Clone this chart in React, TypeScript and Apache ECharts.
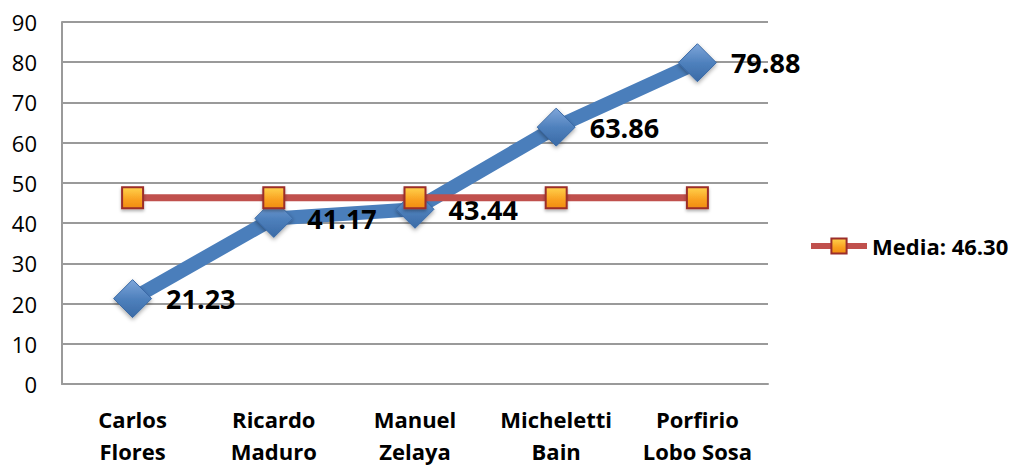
import React, { useEffect, useRef } from "react";
import * as echarts from "echarts";

const categories = ["Carlos\nFlores", "Ricardo\nMaduro", "Manuel\nZelaya", "Micheletti\nBain", "Porfirio\nLobo Sosa"];
const values = [21.23, 41.17, 43.44, 63.86, 79.88];
const mediaValues = [46.3, 46.3, 46.3, 46.3, 46.3];
const mediaName = "Media: 46.30";

export default function App() {
  const ref = useRef<HTMLDivElement>(null);
  useEffect(() => {
    const chart = echarts.init(ref.current!, undefined, { renderer: "svg" });
    const font = "'Open Sans', Lato, sans-serif";
    chart.setOption({
      animation: false,
      textStyle: { fontFamily: font },
      grid: { left: 62, right: 246, top: 22, bottom: 77, containLabel: false },
      legend: {
        data: [mediaName],
        orient: "vertical",
        left: 803,
        top: 230,
        itemWidth: 56,
        itemHeight: 19,
        itemGap: 6,
        lineStyle: { width: 6, color: "#C0504D" },
        textStyle: { fontFamily: font, fontWeight: "bold", fontSize: 22, color: "#000" },
      },
      xAxis: {
        type: "category",
        data: categories,
        boundaryGap: true,
        axisLine: { show: true, lineStyle: { color: "#9a9a9a", width: 2 } },
        axisTick: { show: false },
        axisLabel: {
          interval: 0,
          margin: 19,
          fontFamily: font,
          fontWeight: "bold",
          fontSize: 22,
          lineHeight: 32,
          color: "#000",
        },
      },
      yAxis: {
        type: "value",
        min: 0,
        max: 90,
        interval: 10,
        axisLine: { show: true, lineStyle: { color: "#9a9a9a", width: 2 } },
        axisTick: { show: false },
        splitLine: { show: true, lineStyle: { color: "#9a9a9a", width: 2 } },
        axisLabel: { fontFamily: font, fontSize: 22, color: "#000", margin: 25 },
      },
      series: [
        {
          name: "Valores",
          type: "line",
          data: values,
          symbol: "diamond",
          symbolSize: [38, 38],
          lineStyle: { color: "#4A7EBB", width: 14 },
          itemStyle: {
            color: new echarts.graphic.LinearGradient(0, 0, 0, 1, [
              { offset: 0, color: "#7FA6DA" },
              { offset: 0.5, color: "#4F81BD" },
              { offset: 1, color: "#3A6AA6" },
            ]),
            borderColor: "#3A6AA6",
            borderWidth: 1,
            shadowColor: "rgba(0,0,0,0.35)",
            shadowBlur: 4,
            shadowOffsetY: 2,
          },
          label: {
            show: true,
            position: "right",
            distance: 14,
            fontFamily: font,
            fontWeight: "bold",
            fontSize: 27,
            color: "#000",
            formatter: (p: any) => p.value.toFixed(2),
          },
          z: 2,
        },
        {
          name: mediaName,
          type: "line",
          data: mediaValues,
          symbol: "rect",
          symbolSize: 21,
          lineStyle: { color: "#C0504D", width: 7 },
          itemStyle: {
            color: new echarts.graphic.LinearGradient(0, 0, 0, 1, [
              { offset: 0, color: "#FFD24D" },
              { offset: 0.6, color: "#F9A020" },
              { offset: 1, color: "#F08C10" },
            ]),
            borderColor: "#9B2D2A",
            borderWidth: 2,
            shadowColor: "rgba(0,0,0,0.3)",
            shadowBlur: 3,
            shadowOffsetY: 2,
          },
          z: 3,
        },
      ],
    });
    return () => chart.dispose();
  }, []);
  return <div ref={ref} style={{ position: "absolute", left: 0, top: 0, width: 1014, height: 467 }} />;
}
